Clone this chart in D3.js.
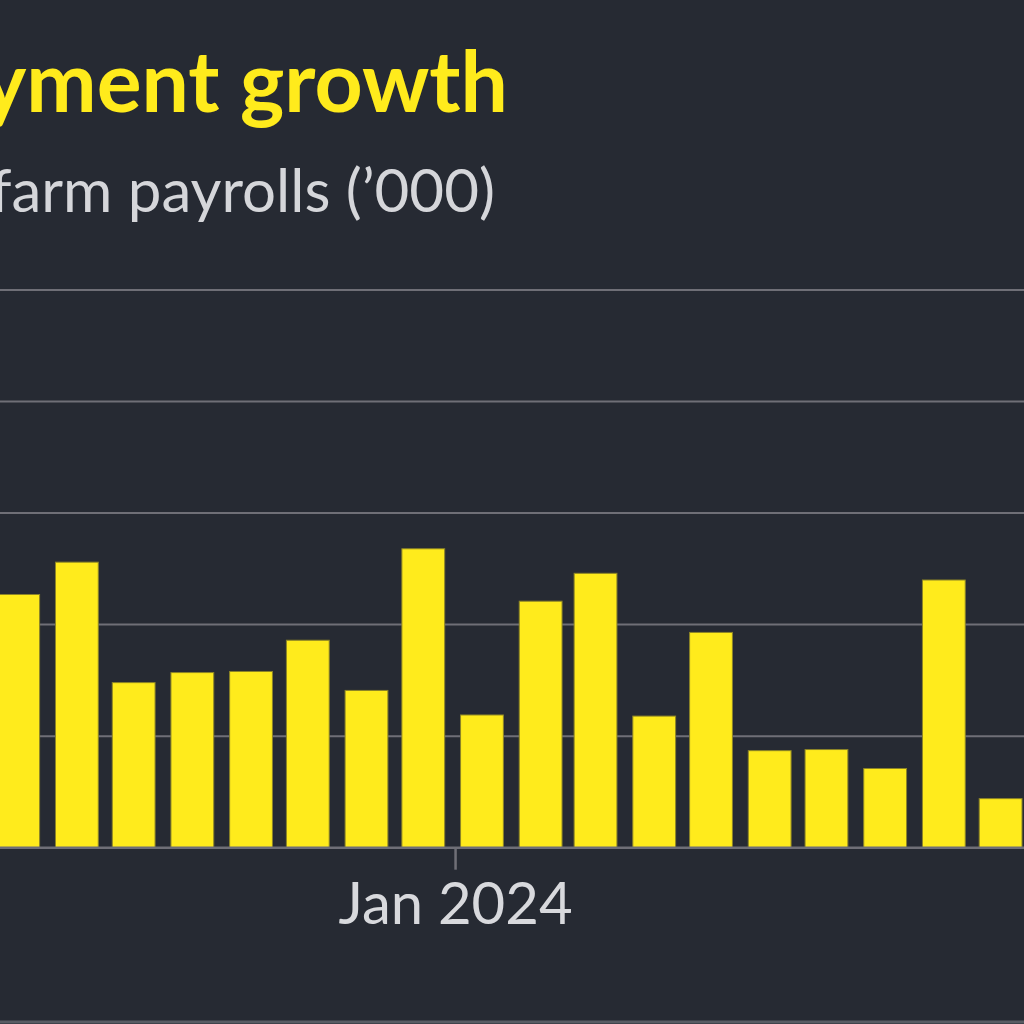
<!DOCTYPE html>
<html>
<head>
<meta charset="utf-8">
<script src="https://cdn.jsdelivr.net/npm/d3@7"></script>
<style>
  html, body { margin: 0; padding: 0; background: #262a33; overflow: hidden; }
  svg { display: block; }
</style>
</head>
<body>
<svg id="chart" width="1024" height="1024"></svg>
<script>
// ---- Data ----
const months = ["2023-05","2023-06","2023-07","2023-08","2023-09","2023-10","2023-11","2023-12",
                "2024-01","2024-02","2024-03","2024-04","2024-05","2024-06","2024-07","2024-08","2024-09","2024-10"];
const payrolls = [227, 256, 148, 157, 158, 186, 141, 268, 119, 221, 246, 118, 193, 87, 88, 71, 240, 44];
const yTicks = [0, 100, 200, 300, 400, 500];
const xTickDates = ["2024-01"];
const xTickLabels = ["Jan 2024"];
const title = "US employment growth";
const subtitle = "Monthly change in nonfarm payrolls (\u2019000)";

// ---- Setup ----
const W = 1024, H = 1024;
const svg = d3.select("#chart");
svg.append("rect").attr("width", W).attr("height", H).attr("fill", "#262a33");

const parse = d3.utcParse("%Y-%m");
const data = months.map((m, i) => ({ date: parse(m), value: payrolls[i] }));

const x = d3.scaleUtc()
  .domain([parse("2023-05"), parse("2024-11")])
  .range([-8.7, 1032.4]);
const y = d3.scaleLinear().domain([0, 500]).range([847.7, 290]);

const step = (x.range()[1] - x.range()[0]) / months.length;
const barW = step * 0.74;
const barOff = step * 0.095;

// gridlines (non-zero)
svg.append("g")
  .selectAll("line")
  .data(yTicks.filter(d => d !== 0))
  .join("line")
  .attr("x1", 0).attr("x2", W)
  .attr("y1", d => y(d)).attr("y2", d => y(d))
  .attr("stroke", "#6f6f77").attr("stroke-width", 2);

// bars
svg.append("g")
  .selectAll("rect")
  .data(data)
  .join("rect")
  .attr("x", d => x(d.date) + barOff)
  .attr("width", barW)
  .attr("y", d => y(d.value))
  .attr("height", d => y(0) - y(d.value))
  .attr("fill", "#ffeb1c")
  .attr("stroke", "#8c8427")
  .attr("stroke-width", 1);

// baseline
svg.append("line")
  .attr("x1", 0).attr("x2", W)
  .attr("y1", y(0)).attr("y2", y(0))
  .attr("stroke", "#6f6f77").attr("stroke-width", 2.5);

// x axis ticks
const xAxis = d3.axisBottom(x)
  .tickValues(xTickDates.map(parse))
  .tickFormat((d, i) => xTickLabels[i])
  .tickSize(22)
  .tickSizeOuter(0)
  .tickPadding(13);
const gx = svg.append("g")
  .attr("transform", `translate(0,${y(0)})`)
  .call(xAxis);
gx.select(".domain").remove();
gx.selectAll(".tick line").attr("stroke", "#6f6f77").attr("stroke-width", 2.5);
gx.selectAll(".tick text")
  .attr("fill", "#d8d9dd")
  .attr("font-family", "Lato, sans-serif")
  .attr("font-size", 58)
  .attr("dy", "0.71em");

// title & subtitle
svg.append("text")
  .attr("x", 508).attr("y", 112)
  .attr("text-anchor", "end")
  .attr("font-family", "Lato, sans-serif")
  .attr("font-weight", 700)
  .attr("font-size", 84)
  .attr("fill", "#ffeb1c")
  .text(title);

svg.append("text")
  .attr("x", 495).attr("y", 212)
  .attr("text-anchor", "end")
  .attr("font-family", "Lato, sans-serif")
  .attr("font-size", 60)
  .attr("fill", "#d5d6da")
  .text(subtitle);

// bottom frame line
svg.append("line")
  .attr("x1", 0).attr("x2", W)
  .attr("y1", 1022).attr("y2", 1022)
  .attr("stroke", "#585c64").attr("stroke-width", 3);
</script>
</body>
</html>
